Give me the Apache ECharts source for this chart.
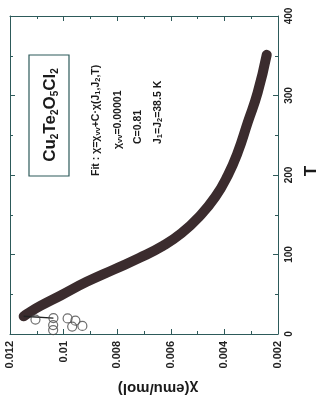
<!DOCTYPE html>
<html>
<head>
<meta charset="utf-8">
<script src="https://cdn.jsdelivr.net/npm/echarts@6/dist/echarts.min.js"></script>
<style>
  html, body { margin: 0; padding: 0; background: #ffffff; }
  #chart { width: 329px; height: 400px; }
</style>
</head>
<body>
<div id="chart"></div>
<script>
// Susceptibility of Cu2Te2O5Cl2: dense measured band (T in K, chi in emu/mol)
var tempK = [22.3, 25.9, 35.6, 48.8, 65.6, 81.2, 95.5, 111.1, 126.8, 147.7, 172.4, 199.8, 228.5, 266.0, 303.5, 351.2];
var chiMeas = [0.01149, 0.01134, 0.01085, 0.01009, 0.00914, 0.00812, 0.00718, 0.00628, 0.00560, 0.00494, 0.00434, 0.00387, 0.00350, 0.00313, 0.00276, 0.00242];

// Low-temperature points (open circles)
var lowT = [18.1, 20.0, 11.2, 4.9, 19.6, 16.8, 9.3, 10.2];
var lowChi = [0.01105, 0.01038, 0.01039, 0.01039, 0.00985, 0.00956, 0.00968, 0.00930];

// Short fit segment below the maximum
var fitT = [22.3, 20.0];
var fitChi = [0.01149, 0.01038];

// Tick labels
var chiTicks = ['0.002', '0.004', '0.006', '0.008', '0.01', '0.012'];
var tTicks = ['0', '100', '200', '300', '400'];

var AX = '#2d5a5a';
var FONT = '"Liberation Sans", Arial, sans-serif';

function pairs(xs, ys) {
  var out = [];
  for (var i = 0; i < xs.length; i++) out.push([ys[i], xs[i]]);
  return out;
}

var chart = echarts.init(document.getElementById('chart'), null, { renderer: 'canvas' });

function chiAxis(pos, showLabel) {
  return {
    type: 'value', position: pos, min: 0.002, max: 0.012, interval: 0.002, inverse: true,
    axisLine: { show: true, onZero: false, lineStyle: { color: AX, width: 1 } },
    axisTick: { show: true, inside: true, length: 5, lineStyle: { color: AX } },
    minorTick: { show: true, splitNumber: 2, length: 3, lineStyle: { color: AX } },
    splitLine: { show: false },
    axisLabel: {
      show: showLabel, rotate: 90, margin: 7, fontSize: 11, fontWeight: 'bold',
      fontFamily: FONT, color: '#222',
      formatter: function (v) { return chiTicks[Math.round((v - 0.002) / 0.002)]; }
    }
  };
}

function tAxis(pos, showLabel) {
  return {
    type: 'value', position: pos, min: 0, max: 400, interval: 100,
    axisLine: { show: true, onZero: false, lineStyle: { color: AX, width: 1 } },
    axisTick: { show: true, inside: true, length: 5, lineStyle: { color: AX } },
    minorTick: { show: true, splitNumber: 2, length: 3, lineStyle: { color: AX } },
    splitLine: { show: false },
    axisLabel: {
      show: showLabel, rotate: 90, margin: 6, fontSize: 10, fontWeight: 'bold',
      fontFamily: FONT, color: '#222',
      formatter: function (v) { return tTicks[Math.round(v / 100)]; }
    }
  };
}

function vtext(x, y, rich, text) {
  return {
    type: 'text', x: x, y: y, rotation: Math.PI / 2,
    style: { text: text, rich: rich, align: 'left', verticalAlign: 'middle', fill: '#1a1a1a' }
  };
}

var fitRich = {
  m: { fontSize: 10.5, fontWeight: 'bold', fontFamily: FONT, fill: '#1a1a1a', lineHeight: 12 },
  s: { fontSize: 7.5, fontWeight: 'bold', fontFamily: FONT, fill: '#1a1a1a', lineHeight: 12, verticalAlign: 'bottom' }
};

var option = {
  animation: false,
  backgroundColor: '#ffffff',
  grid: { left: 10, top: 16, width: 268, height: 318, containLabel: false },
  xAxis: [chiAxis('bottom', true), chiAxis('top', false)],
  yAxis: [tAxis('right', true), tAxis('left', false)],
  series: [
    {
      type: 'line', xAxisIndex: 0, yAxisIndex: 0, data: pairs(tempK, chiMeas),
      smooth: 0.5, showSymbol: false, silent: true,
      lineStyle: { color: '#3b2c2e', width: 10, cap: 'round', join: 'round' }, z: 3
    },
    {
      type: 'line', xAxisIndex: 0, yAxisIndex: 0, data: pairs(fitT, fitChi),
      showSymbol: false, silent: true,
      lineStyle: { color: '#222222', width: 1.3 }, z: 4
    },
    {
      type: 'scatter', xAxisIndex: 0, yAxisIndex: 0, data: pairs(lowT, lowChi),
      symbol: 'circle', symbolSize: 9, silent: true,
      itemStyle: { color: 'rgba(255,255,255,0)', borderColor: '#4a4a4a', borderWidth: 1.2 }, z: 5
    }
  ],
  graphic: [
    {
      type: 'rect', shape: { x: 29, y: 55, width: 40, height: 121 },
      style: { fill: 'none', stroke: AX, lineWidth: 1.2 }
    },
    {
      type: 'text', x: 50, y: 115, rotation: Math.PI / 2,
      style: {
        text: '{m|Cu}{s|2}{m|Te}{s|2}{m|O}{s|5}{m|Cl}{s|2}',
        align: 'center', verticalAlign: 'middle',
        rich: {
          m: { fontSize: 17, fontWeight: 'bold', fontFamily: FONT, fill: '#1a1a1a', lineHeight: 20 },
          s: { fontSize: 10, fontWeight: 'bold', fontFamily: FONT, fill: '#1a1a1a', lineHeight: 12, verticalAlign: 'bottom' }
        }
      }
    },
    vtext(96, 176, fitRich, '{m|Fit : \u03c7=\u03c7}{s|vv}{m|+C\u00b7\u03c7(J}{s|1}{m|,J}{s|2}{m|,T)}'),
    vtext(118, 149, fitRich, '{m|\u03c7}{s|vv}{m|=0.00001}'),
    vtext(138, 144, fitRich, '{m|C=0.81}'),
    vtext(158, 144, fitRich, '{m|J}{s|1}{m|=J}{s|2}{m|=38.5 K}'),
    {
      type: 'text', x: 311, y: 171, rotation: Math.PI / 2,
      style: { text: 'T', align: 'center', verticalAlign: 'middle', fill: '#1a1a1a', font: 'bold 17px ' + FONT }
    },
    {
      type: 'text', x: 158, y: 388, rotation: Math.PI,
      style: { text: '\u03c7(emu/mol)', align: 'center', verticalAlign: 'middle', fill: '#1a1a1a', font: 'bold 15px ' + FONT }
    }
  ]
};

chart.setOption(option);
</script>
</body>
</html>
